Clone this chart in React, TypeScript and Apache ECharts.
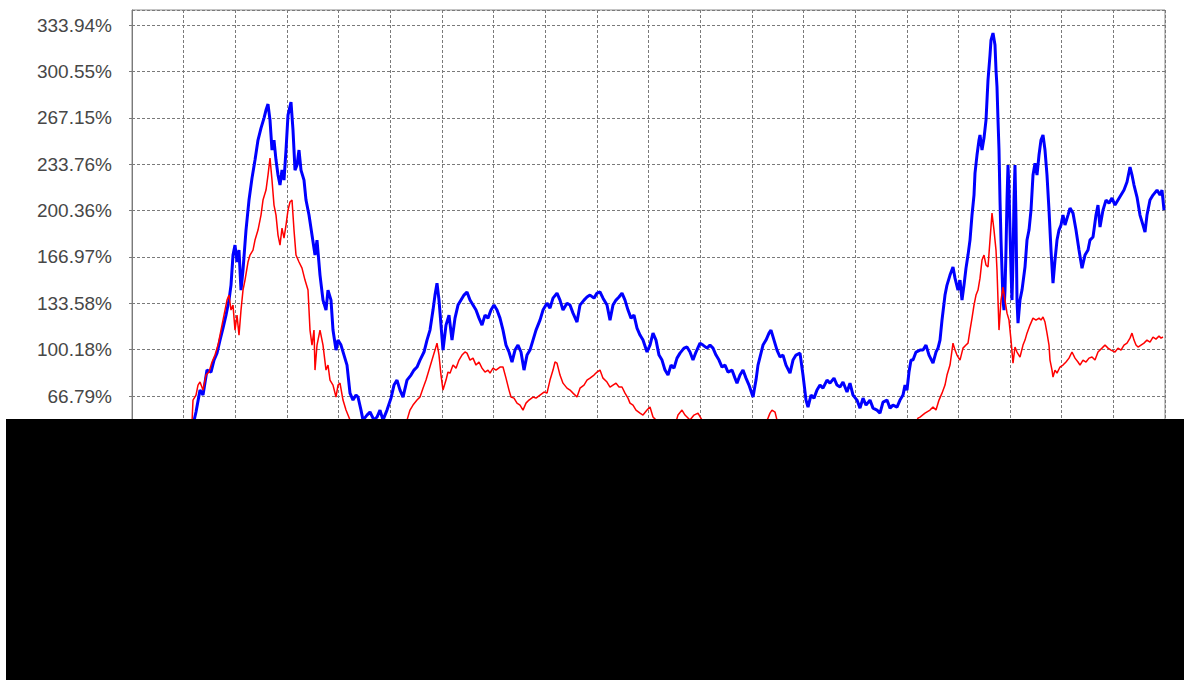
import React, { useEffect, useRef } from "react";
import * as echarts from "echarts";

// x: trading-day index, y: cumulative return in %
const blueSeries: [number, number][] = [
  [60, 35.1], [61, 45.9], [64, 55.3], [68, 71.1], [71, 67.5], [75, 85.5], [79, 84.1], [82, 92.7], [85, 97.7],
  [88, 107.1], [91, 115.7], [94, 125.1], [97, 135.9], [99, 146.7], [101, 168.3], [103, 175.5], [105, 163.3],
  [107, 171.9], [109, 143.1], [111, 157.5], [114, 186.3], [117, 207.9], [120, 223.7], [123, 236.7], [126, 251.1],
  [129, 259.7], [132, 266.9], [134, 272.7], [136, 277.0], [138, 265.5], [140, 243.9], [142, 251.1], [144, 236.7],
  [146, 225.9], [148, 218.7], [150, 229.5], [152, 222.3], [154, 243.9], [156, 269.1], [159, 278.5], [161, 258.3],
  [163, 229.5], [165, 233.1], [167, 243.9], [169, 229.5], [172, 222.3], [174, 207.9], [177, 197.1], [180, 182.7],
  [183, 168.3], [185, 179.1], [188, 153.9], [191, 135.9], [194, 128.7], [196, 143.1], [199, 135.9], [201, 114.3],
  [204, 99.9], [206, 107.1], [209, 103.5], [212, 96.3], [215, 89.1], [218, 68.9], [221, 63.9], [224, 67.5],
  [226, 66.1], [229, 56.7], [231, 49.5], [235, 53.1], [238, 55.3], [242, 49.5], [245, 51.7], [248, 56.7],
  [251, 49.5], [255, 56.7], [259, 65.3], [262, 74.7], [265, 78.3], [268, 71.1], [271, 66.1], [275, 78.3],
  [279, 81.9], [282, 85.5], [285, 87.7], [288, 92.7], [292, 98.5], [295, 107.1], [298, 114.3], [301, 128.7],
  [303, 139.5], [305, 148.1], [307, 135.9], [309, 117.9], [311, 99.9], [314, 117.9], [317, 125.1], [320, 107.1],
  [323, 122.9], [326, 132.3], [329, 135.9], [332, 139.5], [335, 141.7], [338, 135.9], [341, 132.3], [344, 128.7],
  [347, 122.9], [350, 117.9], [353, 125.1], [356, 122.9], [359, 128.7], [362, 132.3], [365, 128.7], [368, 122.9],
  [371, 114.3], [374, 103.5], [377, 98.5], [380, 91.3], [383, 99.9], [386, 103.5], [389, 98.5], [392, 85.5],
  [395, 96.3], [398, 99.9], [401, 107.1], [404, 114.3], [408, 121.5], [411, 128.7], [415, 133.7], [418, 130.1],
  [421, 137.3], [425, 140.9], [428, 135.9], [431, 128.7], [435, 133.7], [438, 132.3], [441, 126.5], [445, 120.1],
  [448, 132.3], [452, 135.9], [455, 138.1], [458, 139.5], [462, 137.3], [465, 140.9], [468, 141.7], [471, 137.3],
  [475, 132.3], [478, 121.5], [481, 132.3], [484, 135.9], [487, 138.1], [490, 140.9], [493, 135.9], [496, 128.7],
  [499, 122.9], [502, 125.1], [505, 115.7], [508, 110.7], [511, 107.1], [515, 98.5], [518, 103.5], [521, 112.1],
  [524, 107.1], [527, 96.3], [530, 92.7], [533, 85.5], [536, 81.9], [539, 89.1], [542, 86.9], [545, 94.1],
  [548, 97.7], [552, 101.3], [555, 102.1], [558, 98.5], [561, 92.7], [564, 98.5], [568, 104.9], [571, 103.5],
  [575, 101.3], [578, 103.5], [581, 101.3], [584, 96.3], [587, 92.7], [590, 87.7], [593, 89.1], [596, 84.1],
  [600, 85.5], [603, 79.7], [605, 76.1], [608, 81.9], [611, 85.5], [614, 79.7], [617, 74.7], [621, 66.1],
  [624, 78.3], [626, 89.1], [628, 94.9], [631, 103.5], [634, 107.1], [637, 112.1], [639, 114.3], [642, 107.1],
  [645, 99.9], [648, 94.9], [651, 96.3], [654, 89.1], [658, 83.3], [661, 92.7], [664, 96.3], [668, 97.7],
  [671, 81.9], [674, 63.9], [676, 58.9], [679, 67.5], [682, 65.3], [685, 71.1], [688, 74.7], [691, 72.5],
  [695, 78.3], [698, 76.1], [702, 79.7], [705, 74.7], [708, 73.3], [711, 76.9], [715, 69.7], [718, 76.1],
  [721, 67.5], [725, 63.9], [728, 58.1], [731, 65.3], [734, 60.3], [738, 63.9], [741, 58.1], [745, 56.7],
  [748, 54.5], [751, 62.5], [755, 63.9], [758, 58.1], [761, 60.3], [765, 58.9], [768, 63.9], [771, 67.5],
  [773, 74.7], [775, 71.1], [777, 84.1], [779, 92.7], [781, 92.7], [784, 98.5], [788, 99.9], [791, 99.9],
  [794, 103.5], [797, 96.3], [801, 90.5], [804, 98.5], [806, 101.3], [808, 107.1], [810, 121.5], [813, 139.5],
  [815, 146.7], [818, 153.9], [821, 159.7], [823, 151.7], [826, 143.1], [828, 150.3], [830, 135.9], [832, 146.7],
  [834, 158.9], [836, 168.3], [838, 179.1], [840, 197.1], [842, 211.5], [843, 227.3], [845, 240.3], [847, 251.1],
  [848, 254.7], [850, 243.9], [852, 252.5], [854, 265.5], [856, 294.3], [858, 312.3], [859, 323.1], [861, 328.1],
  [863, 319.5], [864, 301.5], [865, 289.3], [866, 265.5], [867, 243.9], [868, 207.9], [869, 179.1], [870, 157.5],
  [871, 135.9], [872, 128.7], [873, 143.1], [874, 171.9], [875, 207.9], [876, 233.1], [877, 215.1], [878, 186.3],
  [879, 157.5], [880, 135.9], [881, 164.7], [882, 207.9], [883, 233.1], [884, 193.5], [885, 135.9], [886, 119.3],
  [888, 135.9], [890, 143.1], [893, 159.7], [895, 179.1], [897, 186.3], [899, 200.7], [901, 225.9], [903, 234.5],
  [905, 225.9], [907, 240.3], [909, 251.1], [911, 254.7], [913, 243.9], [915, 225.9], [917, 200.7], [919, 171.9],
  [921, 148.1], [923, 164.7], [925, 179.1], [927, 186.3], [929, 189.9], [931, 197.1], [933, 189.9], [936, 197.1],
  [938, 202.1], [941, 198.5], [944, 186.3], [947, 171.9], [950, 158.9], [953, 168.3], [956, 171.9], [958, 179.1],
  [961, 181.3], [964, 197.1], [966, 204.3], [968, 188.5], [971, 200.7], [974, 207.9], [977, 205.7], [980, 209.3],
  [983, 204.3], [986, 207.9], [989, 211.5], [992, 215.1], [995, 220.9], [998, 231.7], [1000, 225.9], [1002, 218.7],
  [1005, 210.1], [1008, 197.1], [1011, 189.9], [1013, 184.9], [1015, 197.1], [1018, 207.9], [1021, 211.5],
  [1025, 215.1], [1028, 211.5], [1030, 215.1], [1032, 200.7],
];

const redSeries: [number, number][] = [
  [59, 31.5], [61, 63.9], [64, 67.5], [66, 74.7], [68, 76.9], [71, 71.1], [74, 81.9], [77, 84.1], [80, 91.3],
  [83, 96.3], [86, 103.5], [89, 114.3], [92, 125.1], [95, 135.9], [97, 139.5], [99, 128.7], [101, 132.3],
  [103, 114.3], [105, 125.1], [107, 110.7], [109, 128.7], [111, 143.1], [113, 150.3], [116, 163.3], [118, 168.3],
  [121, 171.9], [123, 179.1], [126, 186.3], [129, 197.1], [131, 207.9], [134, 215.1], [136, 225.9], [138, 238.1],
  [140, 222.3], [142, 204.3], [144, 197.1], [146, 182.7], [148, 175.5], [150, 187.7], [152, 180.5], [154, 189.9],
  [156, 200.7], [158, 206.5], [160, 207.9], [162, 186.3], [164, 168.3], [167, 163.3], [170, 158.9], [173, 150.3],
  [176, 143.1], [178, 114.3], [180, 103.5], [182, 114.3], [183, 85.5], [185, 103.5], [188, 114.3], [191, 103.5],
  [194, 85.5], [196, 89.1], [198, 78.3], [201, 74.7], [204, 66.1], [206, 74.7], [208, 76.1], [211, 63.9],
  [214, 56.7], [218, 49.5], [228, 35.1], [243, 24.3], [258, 27.9], [268, 35.1], [273, 45.9], [275, 49.5],
  [278, 56.7], [281, 60.3], [285, 63.9], [288, 66.1], [291, 72.5], [294, 78.3], [297, 85.5], [300, 92.7],
  [303, 99.9], [305, 104.9], [307, 96.3], [309, 81.9], [311, 71.1], [314, 78.3], [316, 84.1], [318, 83.3],
  [321, 89.1], [324, 86.9], [327, 92.7], [330, 96.3], [333, 98.5], [335, 97.7], [338, 92.7], [341, 94.1],
  [344, 89.1], [347, 91.3], [350, 86.9], [353, 84.1], [356, 85.5], [358, 83.3], [361, 86.9], [364, 85.5],
  [368, 87.7], [371, 87.7], [374, 79.7], [377, 71.1], [379, 66.1], [382, 65.3], [385, 61.7], [388, 60.3],
  [391, 56.7], [394, 61.7], [397, 63.9], [401, 66.1], [404, 65.3], [408, 67.5], [412, 69.7], [415, 68.9],
  [418, 78.3], [421, 85.5], [423, 91.3], [425, 90.5], [428, 81.9], [431, 76.1], [435, 72.5], [438, 71.1],
  [441, 68.9], [445, 66.1], [448, 72.5], [452, 74.7], [455, 78.3], [458, 79.7], [462, 81.9], [465, 84.1],
  [468, 85.5], [471, 79.7], [475, 76.9], [478, 73.3], [481, 74.7], [484, 76.1], [487, 73.3], [490, 73.3],
  [493, 68.9], [496, 65.3], [498, 61.7], [501, 60.3], [504, 56.7], [508, 54.5], [511, 53.1], [515, 56.7],
  [518, 58.9], [521, 51.7], [524, 49.5], [528, 43.7], [536, 40.9], [543, 45.9], [546, 53.1], [550, 56.7],
  [553, 53.1], [558, 49.5], [562, 53.1], [566, 54.5], [570, 49.5], [578, 43.7], [593, 38.7], [608, 35.1],
  [623, 40.9], [633, 45.9], [636, 50.9], [638, 54.5], [640, 56.7], [643, 55.3], [645, 49.5], [648, 43.7],
  [668, 35.1], [698, 29.3], [728, 24.3], [753, 27.9], [773, 36.5], [783, 45.9], [786, 50.9], [788, 51.7],
  [793, 54.5], [798, 56.7], [801, 58.9], [804, 56.7], [807, 63.9], [810, 68.9], [813, 74.7], [815, 81.9],
  [818, 89.1], [821, 104.9], [823, 99.9], [825, 96.3], [828, 92.7], [831, 101.3], [834, 103.5], [836, 104.9],
  [838, 114.3], [840, 122.9], [842, 132.3], [844, 139.5], [846, 143.1], [848, 151.7], [850, 164.7], [852, 168.3],
  [854, 161.1], [856, 159.7], [858, 179.1], [860, 198.5], [862, 186.3], [864, 171.9], [865, 157.5], [866, 135.9],
  [867, 114.3], [869, 135.9], [871, 145.3], [873, 135.9], [875, 126.5], [877, 121.5], [879, 107.1], [881, 90.5],
  [883, 102.1], [885, 98.5], [888, 94.9], [891, 103.5], [893, 107.1], [895, 112.1], [898, 117.9], [901, 122.9],
  [904, 121.5], [907, 122.9], [909, 121.5], [911, 123.7], [913, 120.1], [915, 112.1], [917, 103.5], [918, 92.7],
  [920, 85.5], [921, 80.5], [923, 85.5], [925, 83.3], [928, 87.7], [931, 89.1], [934, 91.3], [937, 94.1],
  [940, 98.5], [943, 94.1], [946, 91.3], [948, 89.1], [951, 92.7], [954, 91.3], [957, 94.1], [960, 94.9],
  [963, 92.7], [966, 98.5], [970, 101.3], [973, 103.5], [976, 101.3], [979, 99.9], [983, 98.5], [986, 101.3],
  [989, 99.9], [992, 103.5], [995, 104.9], [998, 108.5], [1000, 112.1], [1002, 107.1], [1004, 103.5],
  [1006, 102.1], [1009, 103.5], [1012, 104.9], [1015, 107.1], [1018, 105.7], [1021, 109.3], [1024, 107.8],
  [1027, 110.0], [1029, 108.5], [1031, 109.3],
];

const yInterval = 33.394;
const yMin = -3 * yInterval;
const yMax = 344.74;
const xMax = 1033;
const xInterval = 51.65;

export default function App() {
  const ref = useRef<HTMLDivElement>(null);
  useEffect(() => {
    if (!ref.current) return;
    const chart = echarts.init(ref.current, undefined, { renderer: "svg" });
    const grey = "#7a7a7a";
    chart.setOption({
      animation: false,
      backgroundColor: "#ffffff",
      grid: {
        left: 132,
        right: 19,
        top: 10,
        bottom: 58,
        show: true,
        borderColor: "#8a8a8a",
        borderWidth: 1,
        backgroundColor: "#ffffff",
      },
      xAxis: {
        type: "value",
        min: 0,
        max: xMax,
        interval: xInterval,
        axisLine: { show: false },
        axisTick: { show: false },
        axisLabel: { show: false },
        splitLine: { show: true, lineStyle: { color: grey, type: [3, 2], width: 1 } },
      },
      yAxis: {
        type: "value",
        min: yMin,
        max: yMax,
        interval: yInterval,
        offset: 7,
        axisLine: { show: true, lineStyle: { color: "#7a7a7a", width: 1 } },
        axisTick: { show: true, inside: false, length: 3, lineStyle: { color: "#7a7a7a" } },
        axisLabel: {
          showMaxLabel: false,
          margin: 13,
          color: "#474747",
          fontSize: 19,
          fontFamily: "'Liberation Sans', Arial, sans-serif",
          formatter: (v: number) => v.toFixed(2) + "%",
        },
        splitLine: { show: true, lineStyle: { color: grey, type: [3, 2], width: 1 } },
      },
      series: [
        {
          name: "blue",
          type: "line",
          data: blueSeries,
          showSymbol: false,
          symbol: "none",
          lineStyle: { color: "#0000ff", width: 3 },
          z: 2,
        },
        {
          name: "red",
          type: "line",
          data: redSeries,
          showSymbol: false,
          symbol: "none",
          lineStyle: { color: "#ff0000", width: 1.5 },
          z: 3,
        },
      ],
      graphic: [
        {
          type: "rect",
          z: 100,
          shape: { x: 6, y: 419, width: 1178, height: 261 },
          style: { fill: "#000000" },
        },
      ],
    });
    return () => chart.dispose();
  }, []);
  return (
    <div
      ref={ref}
      style={{ position: "fixed", left: 0, top: 0, width: 1184, height: 686 }}
    />
  );
}
